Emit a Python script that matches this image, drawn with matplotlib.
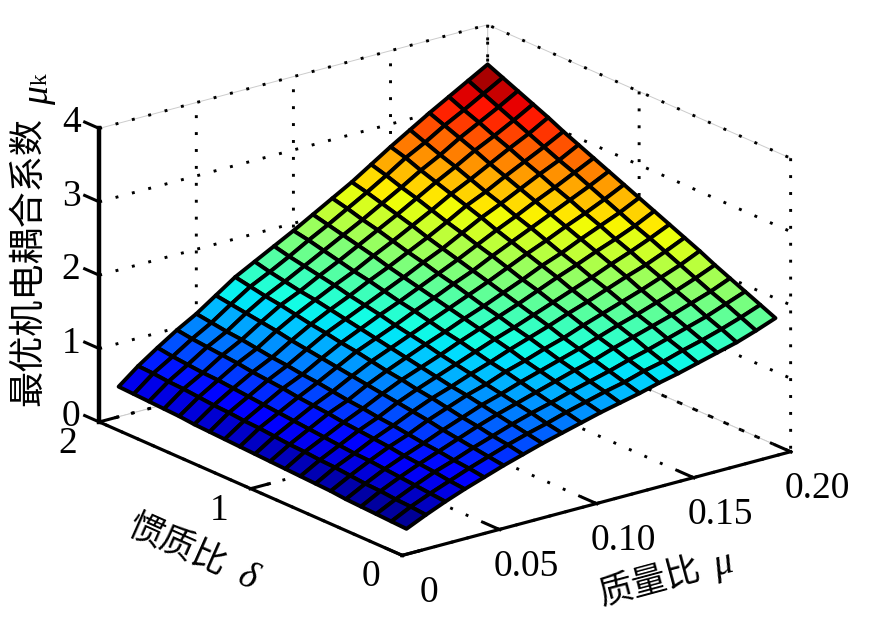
import numpy as np
import matplotlib
matplotlib.use('Agg')
import matplotlib.pyplot as plt
from matplotlib.transforms import offset_copy

# grid of the surface
mu_vals = [0.01, 0.02, 0.03, 0.04, 0.05, 0.06, 0.07, 0.08, 0.09, 0.10,
           0.11, 0.12, 0.13, 0.14, 0.15, 0.16, 0.17, 0.18, 0.19, 0.20]
delta_vals = [0.1, 0.2, 0.3, 0.4, 0.5, 0.6, 0.7, 0.8, 0.9, 1.0,
              1.1, 1.2, 1.3, 1.4, 1.5, 1.6, 1.7, 1.8, 1.9, 2.0]

# one row per delta
mu_k = [
    [.20, .32, .43, .53, .62, .71, .79, .87, .94, 1.01, 1.08, 1.14, 1.20, 1.27, 1.33, 1.40, 1.47, 1.54, 1.63, 1.73],
    [.21, .34, .45, .55, .65, .74, .83, .91, .98, 1.06, 1.13, 1.20, 1.26, 1.34, 1.40, 1.48, 1.55, 1.63, 1.72, 1.82],
    [.22, .35, .47, .58, .67, .77, .86, .95, 1.03, 1.10, 1.18, 1.25, 1.32, 1.40, 1.47, 1.55, 1.63, 1.71, 1.81, 1.91],
    [.23, .37, .49, .60, .70, .80, .90, .99, 1.07, 1.15, 1.23, 1.31, 1.38, 1.47, 1.55, 1.63, 1.71, 1.80, 1.89, 2.00],
    [.24, .38, .51, .62, .72, .83, .93, 1.03, 1.11, 1.20, 1.28, 1.36, 1.44, 1.53, 1.62, 1.70, 1.79, 1.88, 1.98, 2.09],
    [.26, .40, .53, .65, .75, .87, .97, 1.07, 1.15, 1.25, 1.33, 1.42, 1.50, 1.60, 1.69, 1.78, 1.87, 1.97, 2.07, 2.19],
    [.27, .42, .54, .67, .78, .90, 1.01, 1.10, 1.20, 1.29, 1.39, 1.48, 1.57, 1.67, 1.76, 1.86, 1.96, 2.05, 2.16, 2.28],
    [.28, .43, .56, .69, .80, .93, 1.04, 1.14, 1.24, 1.34, 1.44, 1.53, 1.63, 1.73, 1.83, 1.93, 2.04, 2.14, 2.25, 2.37],
    [.29, .45, .58, .71, .83, .96, 1.08, 1.18, 1.28, 1.39, 1.49, 1.59, 1.69, 1.80, 1.91, 2.01, 2.12, 2.22, 2.33, 2.46],
    [.30, .46, .60, .74, .85, .99, 1.11, 1.22, 1.33, 1.43, 1.54, 1.64, 1.75, 1.86, 1.98, 2.08, 2.20, 2.31, 2.42, 2.55],
    [.31, .48, .62, .76, .88, 1.02, 1.15, 1.26, 1.37, 1.48, 1.59, 1.70, 1.81, 1.93, 2.05, 2.16, 2.28, 2.39, 2.51, 2.64],
    [.32, .50, .64, .78, .91, 1.05, 1.19, 1.30, 1.41, 1.53, 1.64, 1.76, 1.87, 2.00, 2.12, 2.24, 2.36, 2.48, 2.60, 2.73],
    [.33, .51, .66, .81, .93, 1.08, 1.22, 1.34, 1.46, 1.57, 1.69, 1.81, 1.93, 2.06, 2.19, 2.31, 2.44, 2.56, 2.69, 2.82],
    [.34, .53, .68, .83, .96, 1.11, 1.26, 1.38, 1.50, 1.62, 1.74, 1.87, 1.99, 2.13, 2.27, 2.39, 2.52, 2.65, 2.77, 2.91],
    [.35, .54, .70, .85, .98, 1.14, 1.29, 1.42, 1.54, 1.67, 1.79, 1.92, 2.05, 2.19, 2.34, 2.46, 2.60, 2.73, 2.86, 3.00],
    [.37, .56, .72, .88, 1.01, 1.18, 1.33, 1.46, 1.59, 1.71, 1.85, 1.98, 2.12, 2.26, 2.41, 2.54, 2.68, 2.82, 2.95, 3.10],
    [.38, .58, .73, .90, 1.04, 1.21, 1.37, 1.49, 1.63, 1.76, 1.90, 2.04, 2.18, 2.33, 2.48, 2.62, 2.77, 2.90, 3.04, 3.19],
    [.39, .59, .75, .92, 1.06, 1.24, 1.40, 1.53, 1.67, 1.81, 1.95, 2.09, 2.24, 2.39, 2.55, 2.69, 2.85, 2.99, 3.13, 3.28],
    [.40, .61, .77, .94, 1.09, 1.27, 1.44, 1.57, 1.71, 1.86, 2.00, 2.15, 2.30, 2.46, 2.63, 2.77, 2.93, 3.07, 3.22, 3.37],
    [.41, .62, .80, .97, 1.12, 1.30, 1.48, 1.62, 1.76, 1.90, 2.05, 2.20, 2.35, 2.52, 2.69, 2.85, 3.01, 3.16, 3.31, 3.46],
]

mu_ticks = [0, 0.05, 0.10, 0.15, 0.20]
mu_ticklabels = ['0', '0.05', '0.10', '0.15', '0.20']
delta_ticks = [0, 1, 2]
z_ticks = [0, 1, 2, 3, 4]

SERIF = 'Liberation Serif'
CJK = 'Noto Sans CJK SC'
plt.rcParams['font.family'] = [SERIF, CJK]

fig = plt.figure(figsize=(8.76, 6.23), dpi=100)
ax = fig.add_axes([-1.5 / 876, 13 / 623, 1, 1], projection='3d', proj_type='ortho', computed_zorder=False)
ax.patch.set_alpha(0)
ax.view_init(elev=20.05, azim=-127.9)
ax.set_box_aspect((490, 491, 311), zoom=1.19)

X, Y = np.meshgrid(mu_vals, delta_vals)
Z = np.array(mu_k)
surf = ax.plot_surface(X, Y, Z, rstride=1, cstride=1, cmap='jet', vmin=Z.min(), vmax=Z.max(),
                       edgecolor='k', linewidth=2.8, shade=False, antialiased=True, zorder=5)
surf.set_clip_on(False)

ax.set_xlim(0, 0.2, view_margin=0)
ax.set_ylim(0, 2, view_margin=0)
ax.set_zlim(0, 4, view_margin=0)
ax.set_xticks(mu_ticks)
ax.set_xticklabels(mu_ticklabels)
ax.set_yticks(delta_ticks)
ax.set_zticks(z_ticks)
ax.tick_params(axis='both', labelsize=27)
ax.tick_params(axis='z', labelsize=27)

for axis in (ax.xaxis, ax.yaxis, ax.zaxis):
    axis.set_pane_color((1, 1, 1, 1))
    axis.pane.set_edgecolor('#cccccc')
    axis.pane.set_linewidth(0.7)
    axis.line.set_color('k')
    axis.line.set_linewidth(2.3)
    axis._axinfo['grid'].update(color='k', linewidth=2.1, linestyle=(0, (1.0, 4.8)))
    axis._axinfo['tick'].update(inward_factor=0.02, outward_factor=0.6, linewidth={True: 2.2, False: 1})

ax.zaxis.line.set_linewidth(3.2)
ax.zaxis.set_ticks_position('upper')
# z ticks point along the delta direction in the reference
ax.zaxis._get_tickdir = lambda position: 1

# nudge tick labels, in pixels. Axis3D resets the transform on every draw, so block that
label_shift = {ax.xaxis: (12, 1), ax.yaxis: (-12, 15), ax.zaxis: (6, 21)}
for axis, (dx, dy) in label_shift.items():
    for tick in axis.get_major_ticks():
        tick.label1.set_transform(offset_copy(ax.transData, fig, x=dx, y=dy, units='dots'))
        tick.label1.set_transform = lambda t: None

# axis titles are placed by hand, CJK part and greek part separately
fig.text(28 / 876, 1 - 262 / 623, '最优机电耦合系数', rotation=90, fontsize=26, family=CJK, ha='center', va='center')
fig.text(39 / 876, 1 - 96 / 623, 'μ', rotation=90, fontsize=27, family=SERIF, style='italic', ha='center', va='center')
fig.text(41 / 876, 1 - 79 / 623, 'k', rotation=90, fontsize=17, family=SERIF, ha='center', va='center')
fig.text(177 / 876, 1 - 546 / 623, '惯质比', rotation=-24, fontsize=25, family=CJK, ha='center', va='center')
fig.text(248 / 876, 1 - 578 / 623, 'δ', rotation=-24, fontsize=27, family=SERIF, style='italic', ha='center', va='center')
fig.text(650 / 876, 1 - 582 / 623, '质量比', rotation=15, fontsize=25, family=CJK, ha='center', va='center')
fig.text(723 / 876, 1 - 565 / 623, 'μ', rotation=15, fontsize=27, family=SERIF, style='italic', ha='center', va='center')

fig.savefig('out.png', dpi=100)
